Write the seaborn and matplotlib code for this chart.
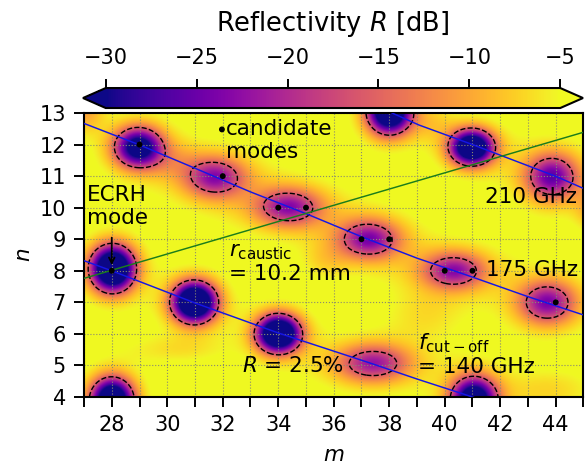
import numpy as np
import matplotlib
matplotlib.use("Agg")
import matplotlib.pyplot as plt
import seaborn as sns

# ---------------- data ----------------
background_db = -3.0
contour_level_pct = 2.5
# reflectivity dips: centre (m, n), centre value [dB], semi-axes of the 2.5 % contour (m, n)
dip_m = [28.02, 28.95, 30.97, 34.00, 28.00, 31.70, 34.37, 37.26, 40.33, 43.70, 37.41, 41.05, 38.00, 40.97, 43.86]
dip_n = [8.07, 11.92, 7.00, 6.00, 3.90, 10.97, 10.02, 9.00, 8.00, 6.99, 5.06, 3.90, 13.05, 11.92, 10.99]
dip_centre_db = [-48, -36, -48, -48, -44, -23, -23, -24, -23, -24, -22, -40, -44, -44, -26]
dip_axis_m = [0.87, 0.85, 0.88, 0.86, 0.81, 0.75, 0.81, 0.80, 0.78, 0.74, 0.85, 0.84, 0.84, 0.84, 0.75]
dip_axis_n = [0.80, 0.62, 0.71, 0.65, 0.74, 0.44, 0.41, 0.45, 0.40, 0.49, 0.38, 0.74, 0.75, 0.60, 0.57]
halo_depth_db = 5.0
halo_scale = 1.9
# faint orange haze patches: centre (m, n), depth [dB], width (m, n)
haze_m = [27.00, 45.50, 30.30, 39.30, 43.80, 39.50, 35.70, 30.20]
haze_n = [13.10, 10.00, 5.50, 6.60, 4.20, 12.70, 8.30, 11.50]
haze_depth = [7, 8, 3, 3, 4, 3, 3, 3]
haze_wm = [0.50, 0.50, 1.30, 1.00, 1.20, 0.60, 0.60, 0.70]
haze_wn = [0.50, 0.50, 0.35, 0.60, 0.50, 0.40, 0.40, 0.40]

# cut-off frequency lines
f140_m = [27.0, 28.0, 31.0, 34.0, 37.4, 39.0, 41.0, 41.5]
f140_n = [8.32, 8.00, 6.98, 6.03, 5.05, 4.57, 4.00, 3.85]
f175_m = [27.0, 29.0, 31.0, 33.0, 35.0, 37.0, 39.0, 41.0, 43.0, 45.0]
f175_n = [12.67, 11.99, 11.25, 10.50, 9.81, 9.08, 8.40, 7.80, 7.18, 6.60]
f210_m = [37.85, 39.07, 41.0, 44.04, 45.0]
f210_n = [13.10, 12.62, 12.00, 10.98, 10.61]
# caustic radius line
caustic_m = [27.0, 45.0]
caustic_n = [7.76, 12.39]

# candidate modes
cand_m = [28, 29, 32, 34, 35, 37, 38, 40, 41, 44]
cand_n = [8, 12, 11, 10, 10, 9, 9, 8, 8, 7]

cbar_ticks = [-30, -25, -20, -15, -10, -5]
x_ticks = list(range(27, 46))
y_ticks = list(range(4, 14))

# ---------------- style ----------------
sns.set_style("ticks")
plt.rcParams["font.family"] = ["DejaVu Sans"]
plt.rcParams["mathtext.fontset"] = "dejavusans"
plt.rcParams["axes.edgecolor"] = "black"
plt.rcParams["xtick.color"] = "black"
plt.rcParams["ytick.color"] = "black"
plt.rcParams["text.color"] = "black"
plt.rcParams["axes.labelcolor"] = "black"

fig = plt.figure(figsize=(5.85, 4.67), dpi=100)
ax = fig.add_axes([0.1436, 0.1499, 0.8538, 0.6081])
cax = fig.add_axes([83.0 / 585, 0.7687, 500.0 / 585, 0.0428])

# ---------------- field ----------------
level_db = 10 * np.log10(contour_level_pct / 100)
mm = np.linspace(27, 45, 541)
nn = np.linspace(4, 13, 271)
M, N = np.meshgrid(mm, nn)
Z = np.full_like(M, background_db)
ks = np.linspace(0.01, 5, 5000)
for m0, n0, c, am, an in zip(dip_m, dip_n, dip_centre_db, dip_axis_m, dip_axis_n):
    D = background_db - c - halo_depth_db
    prof = background_db - D * np.exp(-0.5 * ks ** 2) - halo_depth_db * np.exp(-0.5 * (ks / halo_scale) ** 2)
    k = np.interp(level_db, prof, ks)
    sm, sn = am / k, an / k
    r2 = ((M - m0) / sm) ** 2 + ((N - n0) / sn) ** 2
    Z -= D * np.exp(-0.5 * r2) + halo_depth_db * np.exp(-0.5 * r2 / halo_scale ** 2)
for m0, n0, d, wm, wn in zip(haze_m, haze_n, haze_depth, haze_wm, haze_wn):
    Z -= d * np.exp(-0.5 * (((M - m0) / wm) ** 2 + ((N - n0) / wn) ** 2))

im = ax.imshow(Z, extent=[27, 45, 4, 13], origin="lower", aspect="auto",
               cmap="plasma", vmin=-30, vmax=-5, interpolation="bilinear", zorder=0)
ax.contour(M, N, Z, levels=[level_db], colors="k",
           linestyles="--", linewidths=1.0, zorder=2)

# ---------------- lines ----------------
sns.lineplot(x=f140_m, y=f140_n, ax=ax, color="#1515e6", lw=1.05, sort=False, estimator=None, zorder=3)
sns.lineplot(x=f175_m, y=f175_n, ax=ax, color="#1515e6", lw=1.05, sort=False, estimator=None, zorder=3)
sns.lineplot(x=f210_m, y=f210_n, ax=ax, color="#1515e6", lw=1.05, sort=False, estimator=None, zorder=3)
sns.lineplot(x=caustic_m, y=caustic_n, ax=ax, color="#1b7d1b", lw=1.05, sort=False, estimator=None, zorder=3)

sns.scatterplot(x=cand_m, y=cand_n, ax=ax, color="k", s=18, edgecolor="none", zorder=5)
sns.scatterplot(x=[31.97], y=[12.48], ax=ax, color="k", s=18, edgecolor="none", zorder=5)

# ---------------- annotations ----------------
fs = 15.5
ax.text(32.12, 12.82, "candidate\nmodes", fontsize=fs, ha="left", va="top")
ax.text(27.12, 10.72, "ECRH\nmode", fontsize=fs, ha="left", va="top")
ax.annotate("", xy=(28, 8.18), xytext=(28, 9.05),
            arrowprops=dict(arrowstyle="->", color="k", lw=1.3, shrinkA=0, shrinkB=0))
ax.text(32.22, 8.45, r"$r_\mathrm{caustic}$", fontsize=fs, ha="left", va="baseline")
ax.text(32.22, 7.71, "= 10.2 mm", fontsize=fs, ha="left", va="baseline")
ax.text(41.45, 10.14, "210 GHz", fontsize=fs, ha="left", va="baseline")
ax.text(41.5, 7.84, "175 GHz", fontsize=fs, ha="left", va="baseline")
ax.text(32.7, 4.80, r"$R$ = 2.5%", fontsize=fs, ha="left", va="baseline")
ax.text(39.03, 5.50, r"$f_\mathrm{cut-off}$", fontsize=fs, ha="left", va="baseline")
ax.text(39.05, 4.77, "= 140 GHz", fontsize=fs, ha="left", va="baseline")

# ---------------- axes ----------------
ax.set_xlim(27, 45)
ax.set_ylim(4, 13)
ax.set_xticks(x_ticks)
ax.set_xticklabels([str(v) if v % 2 == 0 else "" for v in x_ticks])
ax.set_yticks(y_ticks)
ax.set_yticklabels([str(v) for v in y_ticks])
ax.tick_params(length=7, width=1.4, labelsize=15, direction="out", pad=6)
ax.grid(True, ls=":", color="#8a8a70", lw=0.8)
ax.set_axisbelow(True)
for s in ax.spines.values():
    s.set_linewidth(1.5)
    s.set_color("black")
ax.set_xlabel("$m$", fontsize=15.5, labelpad=7)
ax.set_ylabel("$n$", fontsize=15.5, labelpad=4)

cb = fig.colorbar(im, cax=cax, orientation="horizontal", extend="both", ticks=cbar_ticks)
cax.xaxis.set_ticks_position("top")
cax.xaxis.set_label_position("top")
cax.tick_params(length=6.5, width=1.4, labelsize=15, pad=8)
cb.outline.set_linewidth(1.5)
cb.set_label("Reflectivity $R$ [dB]", fontsize=18.5, labelpad=12)

fig.savefig("out.png", dpi=100)
